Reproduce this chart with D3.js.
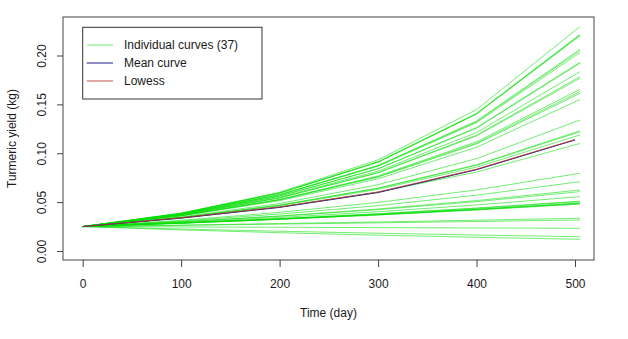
<!DOCTYPE html>
<html>
<head>
<meta charset="utf-8">
<script src="https://cdn.jsdelivr.net/npm/d3@7"></script>
<style>
  html, body { margin: 0; padding: 0; background: #fff; }
  text { font-family: "Liberation Sans", Arial, sans-serif; fill: #1a1a1a; }
</style>
</head>
<body>
<svg id="chart" width="628" height="339"></svg>
<script>
// ---- data ----
const times = [0, 100, 200, 300, 400, 505];
const meanTimes = [0, 100, 200, 300, 400, 500];
const curves = [
  [0.025, 0.0388, 0.0601, 0.0933, 0.1447, 0.2295],
  [0.025, 0.0385, 0.0593, 0.0914, 0.1407, 0.2215],
  [0.025, 0.0386, 0.0595, 0.0910, 0.1404, 0.2210],
  [0.025, 0.0384, 0.0590, 0.0908, 0.1400, 0.2200],
  [0.025, 0.0380, 0.0577, 0.0876, 0.1330, 0.2063],
  [0.025, 0.0379, 0.0575, 0.0872, 0.1323, 0.2049],
  [0.025, 0.0378, 0.0573, 0.0867, 0.1313, 0.2029],
  [0.025, 0.0375, 0.0562, 0.0842, 0.1262, 0.1930],
  [0.025, 0.0374, 0.0561, 0.0840, 0.1257, 0.1922],
  [0.025, 0.0371, 0.0550, 0.0817, 0.1212, 0.1834],
  [0.025, 0.0369, 0.0544, 0.0803, 0.1185, 0.1783],
  [0.025, 0.0368, 0.0542, 0.0799, 0.1177, 0.1767],
  [0.025, 0.0363, 0.0528, 0.0768, 0.1117, 0.1654],
  [0.025, 0.0362, 0.0525, 0.0761, 0.1104, 0.1630],
  [0.025, 0.0362, 0.0523, 0.0757, 0.1095, 0.1613],
  [0.025, 0.0359, 0.0515, 0.0739, 0.1061, 0.1550],
  [0.025, 0.0349, 0.0486, 0.0678, 0.0945, 0.1340],
  [0.025, 0.0343, 0.0470, 0.0644, 0.0883, 0.1230],
  [0.025, 0.0342, 0.0468, 0.0641, 0.0877, 0.1220],
  [0.025, 0.0340, 0.0463, 0.0631, 0.0858, 0.1187],
  [0.025, 0.0335, 0.0450, 0.0603, 0.0808, 0.1100],
  [0.025, 0.0314, 0.0395, 0.0497, 0.0625, 0.0795],
  [0.025, 0.0307, 0.0378, 0.0464, 0.0571, 0.0709],
  [0.025, 0.0300, 0.0359, 0.0430, 0.0516, 0.0624],
  [0.025, 0.0298, 0.0355, 0.0423, 0.0505, 0.0607],
  [0.025, 0.0293, 0.0343, 0.0402, 0.0471, 0.0556],
  [0.025, 0.0287, 0.0330, 0.0379, 0.0436, 0.0504],
  [0.025, 0.0286, 0.0327, 0.0374, 0.0427, 0.0492],
  [0.025, 0.0285, 0.0326, 0.0372, 0.0425, 0.0488],
  [0.025, 0.0285, 0.0325, 0.0371, 0.0423, 0.0485],
  [0.025, 0.0284, 0.0324, 0.0368, 0.0419, 0.0480],
  [0.025, 0.0288, 0.0332, 0.0382, 0.0440, 0.0510],
  [0.025, 0.0265, 0.0281, 0.0297, 0.0315, 0.0335],
  [0.025, 0.0262, 0.0275, 0.0288, 0.0302, 0.0317],
  [0.025, 0.0246, 0.0243, 0.0239, 0.0236, 0.0232],
  [0.025, 0.0225, 0.0202, 0.0182, 0.0163, 0.0146],
  [0.025, 0.0216, 0.0187, 0.0162, 0.0140, 0.0120]
];
const meanCurve = [0.025, 0.0337, 0.0446, 0.0598, 0.0832, 0.1136];
const lowessCurve = [0.025, 0.0340, 0.0451, 0.0604, 0.0837, 0.1140];
const xTicks = [0, 100, 200, 300, 400, 500];
const yTicks = [0, 0.05, 0.10, 0.15, 0.20];
const legendLabels = ["Individual curves (37)", "Mean curve", "Lowess"];

// ---- layout ----
const svg = d3.select("#chart");
const box = { left: 63, right: 594, top: 17, bottom: 260 };
const x = d3.scaleLinear().domain([0, 500]).range([82.7, 575]);
const y = d3.scaleLinear().domain([0, 0.2]).range([251, 55.5]);

const green = "#00dc00";
const blue = "#1c1c8a";
const red = "#b83232";

const line = (xs) => d3.line().x((d, i) => x(xs[i])).y(d => y(d));

// individual curves
svg.append("g").selectAll("path").data(curves).join("path")
  .attr("d", d => line(times)(d))
  .attr("fill", "none")
  .attr("stroke", green)
  .attr("stroke-opacity", 0.55)
  .attr("stroke-width", 1);

svg.append("path").attr("d", line(meanTimes)(meanCurve))
  .attr("fill", "none").attr("stroke", blue).attr("stroke-width", 1);
svg.append("path").attr("d", line(meanTimes)(lowessCurve))
  .attr("fill", "none").attr("stroke", red).attr("stroke-width", 1).attr("stroke-opacity", 0.85);

// box
svg.append("rect")
  .attr("x", box.left).attr("y", box.top)
  .attr("width", box.right - box.left).attr("height", box.bottom - box.top)
  .attr("fill", "none").attr("stroke", "#444").attr("stroke-width", 1);

// x axis
const xAxis = d3.axisBottom(x).tickValues(xTicks).tickSize(7).tickPadding(12)
  .tickFormat(d3.format("d"));
const gx = svg.append("g").attr("transform", `translate(0,${box.bottom})`).call(xAxis);
gx.select(".domain").remove();
gx.selectAll("line").attr("stroke", "#444");
gx.selectAll("text").attr("font-size", 12).attr("font-family", "Liberation Sans, Arial, sans-serif").attr("fill", "#1a1a1a");

// y axis
const yAxis = d3.axisLeft(y).tickValues(yTicks).tickSize(6).tickFormat(d3.format(".2f"));
const gy = svg.append("g").attr("transform", `translate(${box.left},0)`).call(yAxis);
gy.select(".domain").remove();
gy.selectAll("line").attr("stroke", "#444");
gy.selectAll("text")
  .attr("font-size", 12).attr("font-family", "Liberation Sans, Arial, sans-serif").attr("fill", "#1a1a1a")
  .attr("x", null).attr("dy", null)
  .attr("text-anchor", "middle")
  .attr("transform", "translate(-17,0) rotate(-90)");

// axis titles
svg.append("text").attr("x", 328.5).attr("y", 317).attr("text-anchor", "middle")
  .attr("font-size", 12).text("Time (day)");
svg.append("text").attr("transform", "translate(16,138.5) rotate(-90)")
  .attr("text-anchor", "middle").attr("font-size", 12).text("Turmeric yield (kg)");

// legend
const lg = svg.append("g");
lg.append("rect").attr("x", 82.7).attr("y", 27.3).attr("width", 179.3).attr("height", 71.7)
  .attr("fill", "#fff").attr("stroke", "#333").attr("stroke-width", 1);
const legendColors = [green, blue, red];
const legendOpac = [0.55, 1, 0.85];
const rows = [45, 63, 81];
legendLabels.forEach((lab, i) => {
  lg.append("line").attr("x1", 86.7).attr("x2", 113).attr("y1", rows[i]).attr("y2", rows[i])
    .attr("stroke", legendColors[i]).attr("stroke-opacity", legendOpac[i]).attr("stroke-width", 1);
  lg.append("text").attr("x", 124).attr("y", rows[i] + 4.3).attr("font-size", 12).text(lab);
});
</script>
</body>
</html>
